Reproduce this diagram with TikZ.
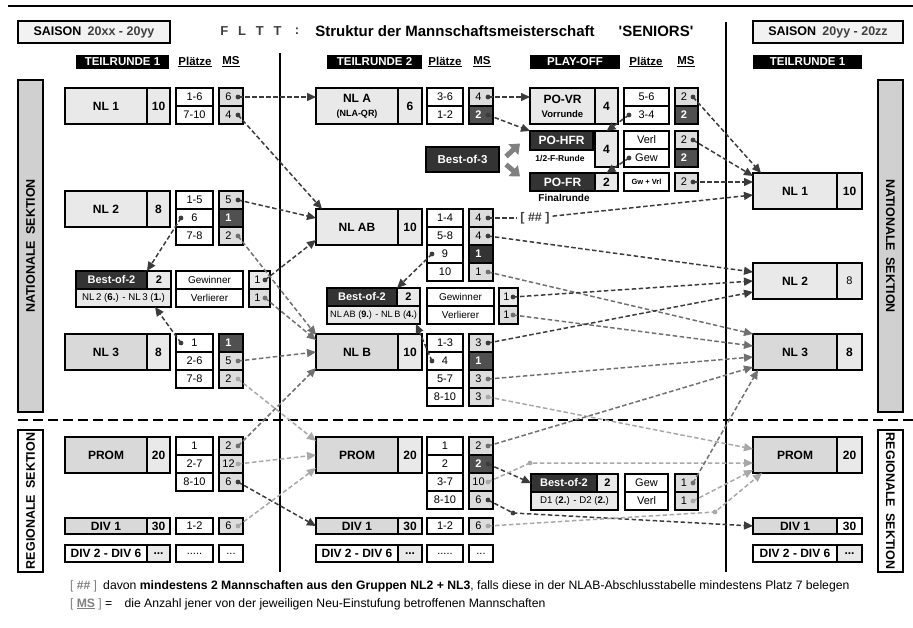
\documentclass[tikz,border=0pt]{standalone}
\usepackage{fontspec}
\setmainfont{Liberation Sans}
\usetikzlibrary{arrows.meta}

\definecolor{boxlight}{HTML}{E9E9E9}
\definecolor{boxmid}{HTML}{D9D9D9}
\definecolor{mslight}{HTML}{DDDDDD}
\definecolor{msdark}{HTML}{505050}
\definecolor{hdark}{HTML}{333333}
\definecolor{lndark}{HTML}{3C3C3C}
\definecolor{lnmid}{HTML}{707070}
\definecolor{lnlight}{HTML}{A8A8A8}
\definecolor{barnat}{HTML}{D0D0D0}

\newcommand{\msflow}[3]{%
  \fill[#1] (#2) circle (2.4pt);
  \draw[link, #1] (#2) -- (#3);}

\tikzset{
  every node/.style={inner sep=0pt, outer sep=0pt},
  box/.style={draw, line width=1.8pt, anchor=north west, fill=boxlight,
    font=\bfseries\fontsize{12}{13}\selectfont},
  cell/.style={draw, line width=1.8pt, anchor=north west, fill=white,
    minimum height=18pt, font=\fontsize{11}{12}\selectfont},
  ml/.style={fill=mslight},
  mw/.style={fill=boxlight},
  md/.style={fill=msdark, text=white, font=\bfseries\fontsize{11}{12}\selectfont},
  mk/.style={fill=hdark, text=white, font=\bfseries\fontsize{11}{12}\selectfont},
  dark/.style={box, fill=hdark, text=white},
  head/.style={fill=black, text=white, minimum height=14pt,
    font=\bfseries\fontsize{11.5}{12}\selectfont},
  colhead/.style={font=\bfseries\fontsize{11.5}{12}\selectfont},
  sectionbar/.style={draw, line width=1.8pt, minimum height=25pt,
    font=\bfseries\fontsize{12.5}{13}\selectfont},
  pairing/.style={box, font=\fontsize{9.7}{10}\selectfont},
  sublabel/.style={font=\bfseries\fontsize{10}{10}\selectfont},
  link/.style={line width=1.5pt, dash pattern=on 4.5pt off 2.5pt,
    -{Triangle[length=9pt,width=8pt]}},
  fatarrow/.style={draw=gray, line width=5pt,
    -{Triangle[length=9pt,width=14pt]}},
  note/.style={anchor=west, font=\fontsize{12.2}{13}\selectfont},
}

\begin{document}
\begin{tikzpicture}[x=1pt, y=-1pt]
  \useasboundingbox (0,0) rectangle (913,628);

  % Header
  \draw[line width=2.6pt] (8,6) -- (913,6);
  \node[box, minimum width=152, minimum height=22, fill=boxlight!60!white,
    font=\bfseries\fontsize{12.5}{13}\selectfont] (season1) at (18,21)
    {SAISON\enspace{\color{darkgray}20xx - 20yy}};
  \node[box, minimum width=150, minimum height=22, fill=boxlight!60!white,
    font=\bfseries\fontsize{12.5}{13}\selectfont] (season2) at (753,21)
    {SAISON\enspace{\color{darkgray}20yy - 20zz}};
  \node[font=\bfseries\fontsize{13}{14}\selectfont, text=darkgray] (fltt) at (251,31)
    {F\hspace{0.75em}L\hspace{0.75em}T\hspace{0.75em}T};
  \node[font=\bfseries\fontsize{13}{14}\selectfont, text=darkgray] (colon) at (297,31) {:};
  \node[font=\bfseries\fontsize{15}{16}\selectfont] (title) at (455,31)
    {Struktur der Mannschaftsmeisterschaft};
  \node[font=\bfseries\fontsize{15}{16}\selectfont] (seniors) at (656,31)
    {\textquotesingle SENIORS\textquotesingle};

  % Separators
  \draw[line width=2.6pt] (280,53) -- (280,572);
  \draw[line width=2.6pt] (726,22) -- (726,572);
  \draw[line width=2.6pt, dash pattern=on 10pt off 5pt] (18,420) -- (913,420);

  % Section bars
  \node[sectionbar, fill=barnat, minimum width=332, rotate=90] (natL) at (30.5,246) {NATIONALE\enspace SEKTION};
  \node[sectionbar, fill=white, minimum width=142, rotate=90] (regL) at (30.5,501) {REGIONALE\enspace SEKTION};
  \node[sectionbar, fill=barnat, minimum width=332, rotate=-90] (natR) at (890.5,246) {NATIONALE\enspace SEKTION};
  \node[sectionbar, fill=white, minimum width=142, rotate=-90] (regR) at (890.5,501) {REGIONALE\enspace SEKTION};

  % Column heads
  \node[head, minimum width=93] (tr1) at (122.5,62) {TEILRUNDE 1};
  \node[colhead] (plL) at (195,62) {\underline{Plätze}};
  \node[colhead] (msL) at (231,62) {\underline{MS}};
  \node[head, minimum width=95] (tr2) at (374.5,62) {TEILRUNDE 2};
  \node[colhead] (plM) at (445,62) {\underline{Plätze}};
  \node[colhead] (msM) at (482,62) {\underline{MS}};
  \node[head, minimum width=90] (po) at (575,62) {PLAY-OFF};
  \node[colhead] (plP) at (646,62) {\underline{Plätze}};
  \node[colhead] (msP) at (686,62) {\underline{MS}};
  \node[head, minimum width=109] (tr1R) at (807.5,62) {TEILRUNDE 1};

  % Teilrunde 1
  \node[box, minimum width=82, minimum height=36] (nl1) at (65,88) {NL 1};
  \node[box, minimum width=23, minimum height=36] (nl1n) at (147,88) {10};
  \foreach \t [count=\i] in {1-6,7-10}
    \node[cell, minimum width=37] (nl1p\i) at (176,70+18*\i) {\t};
  \foreach \t/\s [count=\i] in {6/ml,4/ml}
    \node[cell, \s, minimum width=24] (nl1m\i) at (219,70+18*\i) {\t\hspace*{5pt}};

  \node[box, minimum width=82, minimum height=36] (nl2) at (65,191) {NL 2};
  \node[box, minimum width=23, minimum height=36] (nl2n) at (147,191) {8};
  \foreach \t [count=\i] in {1-5,6,7-8}
    \node[cell, minimum width=37] (nl2p\i) at (176,173+18*\i) {\t};
  \foreach \t/\s [count=\i] in {5/ml,1/md,2/ml}
    \node[cell, \s, minimum width=24] (nl2m\i) at (219,173+18*\i) {\t\hspace*{5pt}};

  \node[dark, minimum width=71, minimum height=18, font=\bfseries\fontsize{11}{12}\selectfont] (boL) at (76,271) {Best-of-2};
  \node[box, minimum width=24, minimum height=18, font=\bfseries\fontsize{11}{12}\selectfont] (boLn) at (147,271) {2};
  \node[pairing, minimum width=95, minimum height=18] (boLb) at (76,289)
    {NL\,2 (\textbf{6.}) - NL\,3 (\textbf{1.})};
  \foreach \t [count=\i] in {Gewinner,Verlierer}
    \node[cell, minimum width=67, font=\fontsize{10}{11}\selectfont] (boLp\i) at (176,253+18*\i) {\t};
  \foreach \t/\s [count=\i] in {1/mw,1/ml}
    \node[cell, \s, minimum width=21] (boLm\i) at (249,253+18*\i) {\t\hspace*{4pt}};

  \node[box, fill=boxmid, minimum width=82, minimum height=36] (nl3) at (65,334) {NL 3};
  \node[box, minimum width=23, minimum height=36] (nl3n) at (147,334) {8};
  \foreach \t [count=\i] in {1,2-6,7-8}
    \node[cell, minimum width=37] (nl3p\i) at (176,316+18*\i) {\t};
  \foreach \t/\s [count=\i] in {1/md,5/ml,2/ml}
    \node[cell, \s, minimum width=24] (nl3m\i) at (219,316+18*\i) {\t\hspace*{5pt}};

  \node[box, fill=boxmid, minimum width=82, minimum height=36] (prL) at (65,437) {PROM};
  \node[box, minimum width=23, minimum height=36] (prLn) at (147,437) {20};
  \foreach \t [count=\i] in {1,2-7,8-10}
    \node[cell, minimum width=37] (prLp\i) at (176,419+18*\i) {\t};
  \foreach \t/\s [count=\i] in {2/ml,12/ml,6/ml}
    \node[cell, \s, minimum width=24] (prLm\i) at (219,419+18*\i) {\t\hspace*{5pt}};

  \node[box, fill=boxmid, minimum width=82, minimum height=16] (dvL) at (65,518) {DIV 1};
  \node[box, minimum width=23, minimum height=16] (dvLn) at (147,518) {30};
  \node[cell, minimum width=37, minimum height=16] (dvLp) at (176,518) {1-2};
  \node[cell, ml, minimum width=24, minimum height=16] (dvLm) at (219,518) {6\hspace*{5pt}};
  \node[box, fill=white, minimum width=82, minimum height=17] (dxL) at (65,545) {DIV 2 - DIV 6};
  \node[box, minimum width=23, minimum height=17] (dxLn) at (147,545) {...};
  \node[cell, minimum width=37, minimum height=17] (dxLp) at (176,545) {.....};
  \node[cell, minimum width=24, minimum height=17] (dxLm) at (219,545) {...};

  % Teilrunde 2
  \node[box, minimum width=82, minimum height=36, align=center] (nla) at (316,88)
    {NL A\\[1pt]{\fontsize{9}{9}\selectfont(NLA-QR)}};
  \node[box, minimum width=24, minimum height=36] (nlan) at (398,88) {6};
  \foreach \t [count=\i] in {3-6,1-2}
    \node[cell, minimum width=36] (nlap\i) at (427,70+18*\i) {\t};
  \foreach \t/\s [count=\i] in {4/ml,2/md}
    \node[cell, \s, minimum width=24] (nlam\i) at (469,70+18*\i) {\t\hspace*{5pt}};

  \node[box, minimum width=82, minimum height=36] (nlab) at (316,209) {NL AB};
  \node[box, minimum width=24, minimum height=36] (nlabn) at (398,209) {10};
  \foreach \t [count=\i] in {1-4,5-8,9,10}
    \node[cell, minimum width=36] (nlabp\i) at (427,191+18*\i) {\t};
  \foreach \t/\s [count=\i] in {4/ml,4/ml,1/mk,1/ml}
    \node[cell, \s, minimum width=24] (nlabm\i) at (469,191+18*\i) {\t\hspace*{5pt}};

  \node[dark, minimum width=70, minimum height=18, font=\bfseries\fontsize{11}{12}\selectfont] (boM) at (327,288) {Best-of-2};
  \node[box, minimum width=23, minimum height=18, font=\bfseries\fontsize{11}{12}\selectfont] (boMn) at (397,288) {2};
  \node[pairing, minimum width=93, minimum height=18, font=\fontsize{9.2}{10}\selectfont] (boMb) at (327,306)
    {NL\,AB (\textbf{9.}) - NL\,B (\textbf{4.})};
  \foreach \t [count=\i] in {Gewinner,Verlierer}
    \node[cell, minimum width=67, font=\fontsize{10}{11}\selectfont] (boMp\i) at (427,270+18*\i) {\t};
  \foreach \t/\s [count=\i] in {1/mw,1/ml}
    \node[cell, \s, minimum width=19] (boMm\i) at (499,270+18*\i) {\t\hspace*{4pt}};

  \node[box, fill=boxmid, minimum width=82, minimum height=36] (nlb) at (316,334) {NL B};
  \node[box, minimum width=24, minimum height=36] (nlbn) at (398,334) {10};
  \foreach \t [count=\i] in {1-3,4,5-7,8-10}
    \node[cell, minimum width=36] (nlbp\i) at (427,316+18*\i) {\t};
  \foreach \t/\s [count=\i] in {3/ml,1/md,3/ml,3/ml}
    \node[cell, \s, minimum width=24] (nlbm\i) at (469,316+18*\i) {\t\hspace*{5pt}};

  \node[box, fill=boxmid, minimum width=82, minimum height=36] (prM) at (316,437) {PROM};
  \node[box, minimum width=24, minimum height=36] (prMn) at (398,437) {20};
  \foreach \t [count=\i] in {1,2,3-7,8-10}
    \node[cell, minimum width=36] (prMp\i) at (427,419+18*\i) {\t};
  \foreach \t/\s [count=\i] in {2/ml,2/md,10/ml,6/ml}
    \node[cell, \s, minimum width=24] (prMm\i) at (469,419+18*\i) {\t\hspace*{5pt}};

  \node[box, fill=boxmid, minimum width=82, minimum height=16] (dvM) at (316,518) {DIV 1};
  \node[box, minimum width=24, minimum height=16] (dvMn) at (398,518) {30};
  \node[cell, minimum width=36, minimum height=16] (dvMp) at (427,518) {1-2};
  \node[cell, ml, minimum width=24, minimum height=16] (dvMm) at (469,518) {6\hspace*{5pt}};
  \node[box, fill=white, minimum width=82, minimum height=17] (dxM) at (316,545) {DIV 2 - DIV 6};
  \node[box, minimum width=24, minimum height=17] (dxMn) at (398,545) {...};
  \node[cell, minimum width=36, minimum height=17] (dxMp) at (427,545) {.....};
  \node[cell, minimum width=24, minimum height=17] (dxMm) at (469,545) {...};

  % Play-off
  \node[box, minimum width=65, minimum height=36, align=center] (povr) at (530,88)
    {PO-VR\\[1pt]{\fontsize{9.5}{9}\selectfont Vorrunde}};
  \node[box, minimum width=23, minimum height=36] (povrn) at (595,88) {4};
  \foreach \t [count=\i] in {5-6,3-4}
    \node[cell, minimum width=45] (povrp\i) at (624,70+18*\i) {\t};
  \foreach \t/\s [count=\i] in {2/ml,2/md}
    \node[cell, \s, minimum width=23] (povrm\i) at (675,70+18*\i) {\t\hspace*{5pt}};

  \node[dark, minimum width=63, minimum height=19] (pohf) at (530,131) {PO-HFR};
  \node[sublabel, font=\bfseries\fontsize{8.5}{9}\selectfont] (pohfl) at (560,159) {1/2-F-Runde};
  \node[box, minimum width=23, minimum height=36] (pohfn) at (595,131) {4};
  \foreach \t [count=\i] in {Verl,Gew}
    \node[cell, minimum width=45] (pohfp\i) at (624,113+18*\i) {\t};
  \foreach \t/\s [count=\i] in {2/ml,2/md}
    \node[cell, \s, minimum width=23] (pohfm\i) at (675,113+18*\i) {\t\hspace*{5pt}};

  \node[dark, minimum width=65, minimum height=18] (pofr) at (530,173) {PO-FR};
  \node[sublabel] (pofrl) at (564,198) {Finalrunde};
  \node[box, minimum width=23, minimum height=18] (pofrn) at (595,173) {2};
  \node[cell, minimum width=45, font=\bfseries\fontsize{7.5}{8}\selectfont] (pofrp) at (624,173) {Gw + Vrl};
  \node[cell, ml, minimum width=23] (pofrm) at (675,173) {2\hspace*{5pt}};

  \node[dark, minimum width=73, minimum height=25, font=\bfseries\fontsize{11.5}{12}\selectfont] (bo3) at (426,147) {Best-of-3};
  \draw[fatarrow] ([xshift=7pt,yshift=3pt]bo3.east) -- ++(14,-13);
  \draw[fatarrow] ([xshift=7pt,yshift=-5pt]bo3.east) -- ++(14,12);

  \node[dark, minimum width=66, minimum height=18, font=\bfseries\fontsize{11}{12}\selectfont] (boR) at (531,474) {Best-of-2};
  \node[box, minimum width=21, minimum height=18, font=\bfseries\fontsize{11}{12}\selectfont] (boRn) at (597,474) {2};
  \node[pairing, minimum width=87, minimum height=18] (boRb) at (531,492)
    {D1 (\textbf{2.}) - D2 (\textbf{2.})};
  \foreach \t [count=\i] in {Gew,Verl}
    \node[cell, minimum width=43] (boRp\i) at (625,456+18*\i) {\t};
  \foreach \t/\s [count=\i] in {1/ml,1/ml}
    \node[cell, \s, minimum width=23] (boRm\i) at (675,456+18*\i) {\t\hspace*{5pt}};

  % Teilrunde 1 next season
  \node[box, minimum width=84, minimum height=36] (nl1R) at (753,173) {NL 1};
  \node[box, minimum width=25, minimum height=36] (nl1Rn) at (837,173) {10};
  \node[box, minimum width=84, minimum height=36] (nl2R) at (753,263) {NL 2};
  \node[box, minimum width=25, minimum height=36, font=\fontsize{11}{12}\selectfont] (nl2Rn) at (837,263) {8};
  \node[box, fill=boxmid, minimum width=84, minimum height=36] (nl3R) at (753,334) {NL 3};
  \node[box, minimum width=25, minimum height=36] (nl3Rn) at (837,334) {8};
  \node[box, fill=boxmid, minimum width=84, minimum height=36] (prR) at (753,437) {PROM};
  \node[box, minimum width=25, minimum height=36] (prRn) at (837,437) {20};
  \node[box, fill=boxmid, minimum width=84, minimum height=16] (dvR) at (753,518) {DIV 1};
  \node[box, fill=white, minimum width=25, minimum height=16] (dvRn) at (837,518) {30};
  \node[box, fill=white, minimum width=84, minimum height=17] (dxR) at (753,545) {DIV 2 - DIV 6};
  \node[box, minimum width=25, minimum height=17] (dxRn) at (837,545) {...};

  % Moves, Teilrunde 1 -> Teilrunde 2
  \msflow{lndark}{[xshift=-5pt]nl1m1.east}{nla.west |- nl1m1}
  \msflow{lndark}{[xshift=-5pt]nl1m2.east}{[xshift=6pt]nlab.north west}
  \msflow{lndark}{[xshift=-5pt]nl2m1.east}{[yshift=9pt]nlab.west}
  \msflow{lnmid}{[xshift=-5pt]nl2m3.east}{[yshift=-1pt]nlb.north west}
  \msflow{lndark}{[xshift=5pt]nl2p2.west}{boL.north east}
  \msflow{lndark}{[xshift=-5pt]boLm1.east}{[yshift=-13pt]nlab.west}
  \msflow{lnmid}{[xshift=-5pt]boLm2.east}{[yshift=-6pt]nlb.north west}
  \msflow{lndark}{[xshift=5pt]nl3p1.west}{[xshift=-16pt]boLb.south east}
  \msflow{lnmid}{[xshift=-5pt]nl3m2.east}{nlb.west}
  \msflow{lnlight}{[xshift=-5pt]nl3m3.east}{[yshift=14pt]prM.west}
  \msflow{lnmid}{[xshift=-5pt]prLm1.east}{[yshift=-16pt]nlb.west}
  \msflow{lnlight}{[xshift=-5pt]prLm2.east}{prM.west}
  \msflow{lndark}{[xshift=-5pt]prLm3.east}{dvM.west}
  \msflow{lnlight}{[xshift=-5pt]dvLm.east}{[yshift=-13pt]prM.west}

  % Moves, Teilrunde 2 -> play-off and next season
  \msflow{lndark}{[xshift=-5pt]nlam1.east}{povr.west |- nlam1}
  \msflow{lndark}{[xshift=-5pt]nlam2.east}{pohf.north west}
  \msflow{lndark}{[xshift=5pt]nlabp3.west}{boM.north east}
  \node[font=\bfseries\fontsize{12.5}{12}\selectfont, text=darkgray, fill=white, inner xsep=3pt] (hash) at (535,218) {[ \#\# ]};
  \fill[lndark] ([xshift=-5pt]nlabm1.east) circle (2.4pt);
  \draw[link, -, lndark] ([xshift=-5pt]nlabm1.east) -- (hash);
  \draw[link, lndark] (hash) -- ([yshift=-4pt]nl1R.west);
  \msflow{lndark}{[xshift=-5pt]nlabm2.east}{[yshift=9pt]nl2R.west}
  \msflow{lnmid}{[xshift=-5pt]nlabm4.east}{nl3R.north west}
  \msflow{lndark}{[xshift=-5pt]boMm1.east}{nl2R.west}
  \msflow{lnmid}{[xshift=-5pt]boMm2.east}{[yshift=6pt]nl3R.west}
  \msflow{lndark}{[xshift=5pt]nlbp2.west}{[xshift=-4pt]boMb.south east}
  \msflow{lndark}{[xshift=-5pt]nlbm1.east}{[yshift=-11pt]nl2R.west}
  \msflow{lnmid}{[xshift=-5pt]nlbm3.east}{[yshift=-5pt]nl3R.west}
  \msflow{lnlight}{[xshift=-5pt]nlbm4.east}{[yshift=6pt]prR.west}
  \msflow{lnmid}{[xshift=-5pt]prMm1.east}{[yshift=-15pt]nl3R.west}
  \msflow{lndark}{[xshift=-5pt]prMm2.east}{boR.west}
  \coordinate (viaP) at (530,463);
  \fill[lnlight] ([xshift=-5pt]prMm3.east) circle (2.4pt) (viaP) circle (2.4pt);
  \draw[link, lnlight] ([xshift=-5pt]prMm3.east) -- (viaP) -- (prR.west |- viaP);
  \coordinate (viaD) at (513,513);
  \fill[lndark] ([xshift=-5pt]prMm4.east) circle (2.4pt) (viaD) circle (2.4pt);
  \draw[link, lndark] ([xshift=-5pt]prMm4.east) -- (viaD) -- (dvR.west);
  \coordinate (viaE) at (715,512);
  \fill[lnlight] ([xshift=-5pt]dvMm.east) circle (2.4pt) (viaE) circle (2.4pt);
  \draw[link, lnlight] ([xshift=-5pt]dvMm.east) -- (viaE) -- ([xshift=9pt]prR.south west);

  % Play-off moves
  \msflow{lndark}{[xshift=-5pt]povrm1.east}{[xshift=8pt]nl1R.north west}
  \msflow{lndark}{[xshift=5pt]povrp2.west}{pohfn.north}
  \msflow{lndark}{[xshift=-5pt]pohfm1.east}{[yshift=-3pt]nl1R.north west}
  \msflow{lndark}{[xshift=5pt]pohfp2.west}{pofrn.north}
  \msflow{lndark}{[xshift=-5pt]pofrm.east}{nl1R.west |- pofrm}
  \msflow{lnmid}{[xshift=-5pt]boRm1.east}{[xshift=5pt]nl3R.south west}
  \msflow{lnlight}{[xshift=-5pt]boRm2.east}{[yshift=-15pt]prR.west}

  % Notes
  \node[note] (note1) at (70,586) {{\color{gray}[ \textbf{\#\#} ]}\enspace davon \textbf{mindestens 2 Mannschaften aus den Gruppen NL2 + NL3}, falls diese in der NLAB-Abschlusstabelle mindestens Platz 7 belegen};
  \node[note] (note2) at (70,604) {{\color{gray}[ \underline{\textbf{MS}} ]} =\quad die Anzahl jener von der jeweiligen Neu-Einstufung betroffenen Mannschaften};
\end{tikzpicture}
\end{document}
